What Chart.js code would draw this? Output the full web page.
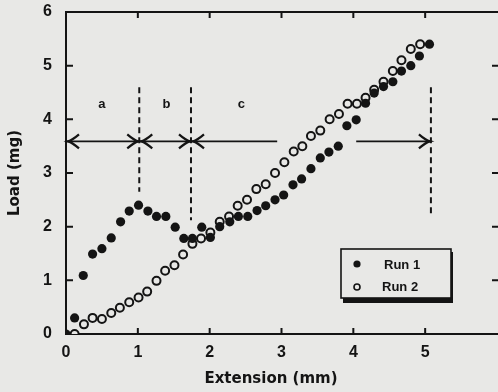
<!DOCTYPE html>
<html>
<head>
<meta charset="utf-8">
<script src="https://cdn.jsdelivr.net/npm/chart.js@4.4.1/dist/chart.umd.min.js"></script>
<style>
  html, body { margin: 0; padding: 0; background: #e8e8e6; overflow: hidden; }
  #wrap { width: 498px; height: 392px; }
  canvas { display: block; }
</style>
</head>
<body>
<div id="wrap"><canvas id="loadChart"></canvas></div>
<script>
// values
var runOneX = [0, 0.12, 0.24, 0.37, 0.50, 0.63, 0.76, 0.88, 1.01, 1.14, 1.26, 1.39, 1.52, 1.64, 1.76, 1.89, 2.01, 2.14, 2.28, 2.40,
    2.53, 2.66, 2.78, 2.91, 3.03, 3.16, 3.28, 3.41, 3.54, 3.66, 3.79, 3.91, 4.04, 4.17, 4.29, 4.42, 4.55, 4.67, 4.80, 4.92, 5.06];
var runOneY = [0, 0.30, 1.09, 1.49, 1.59, 1.79, 2.09, 2.29, 2.40, 2.29, 2.19, 2.19, 1.99, 1.78, 1.78, 1.99, 1.80, 2.00, 2.09, 2.19,
    2.19, 2.30, 2.39, 2.50, 2.59, 2.78, 2.89, 3.08, 3.28, 3.39, 3.50, 3.88, 3.99, 4.30, 4.49, 4.61, 4.70, 4.90, 5.00, 5.18, 5.40];
var runTwoX = [0.12, 0.25, 0.37, 0.50, 0.63, 0.75, 0.88, 1.01, 1.13, 1.26, 1.38, 1.51, 1.63, 1.76, 1.88, 2.01, 2.14, 2.27, 2.39, 2.52,
    2.65, 2.78, 2.91, 3.04, 3.17, 3.29, 3.41, 3.54, 3.67, 3.80, 3.92, 4.05, 4.17, 4.29, 4.42, 4.55, 4.67, 4.80, 4.93];
var runTwoY = [0, 0.18, 0.30, 0.28, 0.39, 0.49, 0.59, 0.68, 0.79, 0.99, 1.18, 1.28, 1.48, 1.68, 1.78, 1.89, 2.09, 2.19, 2.39, 2.50,
    2.70, 2.79, 3.00, 3.20, 3.40, 3.50, 3.69, 3.79, 4.00, 4.10, 4.29, 4.29, 4.40, 4.55, 4.70, 4.90, 5.10, 5.31, 5.40];

var seriesNames = ['Run 1', 'Run 2'];
var xTicks = [0, 1, 2, 3, 4, 5];
var yTicks = [0, 1, 2, 3, 4, 5, 6];

// region markers (a, b, c)
var dividerX = [1.02, 1.74, 5.08];
var dividerTop = [4.6, 4.6, 4.6];
var dividerBottom = [2.65, 2.12, 2.25];
var regionNames = ['a', 'b', 'c'];
var regionLabelX = [0.5, 1.40, 2.44];
var regionLabelY = 4.27;
var arrowY = 3.59;
var arrowStart = [0, 1.02, 1.74];
var arrowEnd = [1.02, 1.74, 5.08];
var arrowGap = [2.94, 4.04]; // line broken where the data crosses it

var ink = '#141414';

function pts(xs, ys) {
    return xs.map(function (x, i) { return { x: x, y: ys[i] }; });
}

var datasets = [{
    label: seriesNames[0],
    data: pts(runOneX, runOneY),
    showLine: false,
    pointRadius: 4.6,
    pointBorderWidth: 0,
    pointBackgroundColor: ink,
    pointBorderColor: ink,
}, {
    label: seriesNames[1],
    data: pts(runTwoX, runTwoY),
    showLine: false,
    pointRadius: 4,
    pointBorderWidth: 2,
    pointBackgroundColor: '#e8e8e6',
    pointBorderColor: ink,
}];

// dashed dividers
dividerX.forEach(function (x, i) {
    datasets.push({
        type: 'line',
        data: [{ x: x, y: dividerTop[i] }, { x: x, y: dividerBottom[i] }],
        borderColor: ink,
        borderWidth: 2,
        borderDash: [6, 4],
        pointRadius: 0,
    });
});

// arrow shafts
arrowStart.forEach(function (x0, i) {
    var x1 = arrowEnd[i];
    var pieces = [[x0, x1]];
    if (arrowGap[0] > x0 && arrowGap[1] < x1) {
        pieces = [[x0, arrowGap[0]], [arrowGap[1], x1]];
    }
    pieces.forEach(function (p) {
        datasets.push({
            type: 'line',
            data: [{ x: p[0], y: arrowY }, { x: p[1], y: arrowY }],
            borderColor: ink,
            borderWidth: 1.8,
            pointRadius: 0,
        });
    });
});

var paperPlugin = {
    id: 'paper',
    beforeDraw: function (chart) {
        var ctx = chart.ctx;
        ctx.save();
        ctx.fillStyle = '#e8e8e6';
        ctx.fillRect(0, 0, chart.width, chart.height);
        ctx.restore();
    },
    afterDraw: function (chart) {
        var ctx = chart.ctx;
        var xs = chart.scales.x, ys = chart.scales.y;
        var a = chart.chartArea;
        ctx.save();
        ctx.strokeStyle = ink;
        ctx.fillStyle = ink;

        // frame: top line and inward ticks
        ctx.lineWidth = 2;
        ctx.beginPath();
        ctx.moveTo(a.left, a.top);
        ctx.lineTo(a.right + 2, a.top);
        ctx.stroke();
        ctx.beginPath();
        xTicks.forEach(function (v) {
            if (v === 0) return;
            var px = xs.getPixelForValue(v);
            ctx.moveTo(px, a.bottom); ctx.lineTo(px, a.bottom - 6);
            ctx.moveTo(px, a.top); ctx.lineTo(px, a.top + 6);
        });
        yTicks.forEach(function (v) {
            if (v === 0 || v === 6) return;
            var py = ys.getPixelForValue(v);
            ctx.moveTo(a.left, py); ctx.lineTo(a.left + 7, py);
            ctx.moveTo(a.right + 2, py); ctx.lineTo(a.right - 5, py);
        });
        ctx.stroke();

        // arrow heads
        ctx.lineWidth = 2.2;
        var ay = ys.getPixelForValue(arrowY);
        function head(px, dir) {
            ctx.beginPath();
            ctx.moveTo(px - dir * 11, ay - 7);
            ctx.quadraticCurveTo(px - dir * 4, ay - 1, px, ay);
            ctx.quadraticCurveTo(px - dir * 4, ay + 1, px - dir * 11, ay + 7);
            ctx.stroke();
        }
        arrowStart.forEach(function (x0, i) {
            head(xs.getPixelForValue(x0) + 2, -1);
            head(xs.getPixelForValue(arrowEnd[i]) - 1, 1);
        });

        // region letters
        ctx.font = 'bold 13px "Liberation Sans", Arial, sans-serif';
        ctx.textAlign = 'center';
        ctx.textBaseline = 'middle';
        regionNames.forEach(function (t, i) {
            ctx.fillText(t, xs.getPixelForValue(regionLabelX[i]), ys.getPixelForValue(regionLabelY));
        });

        // x axis title
        ctx.font = 'bold 15px "DejaVu Sans", sans-serif';
        ctx.fillText('Extension (mm)', 271, 379);

        // legend box with shadow
        var bx = 341, by = 249, bw = 110, bh = 49;
        ctx.fillRect(bx + 2, by + bh, bw, 5);
        ctx.fillRect(bx + bw, by + 3, 2, bh);
        ctx.fillStyle = '#e8e8e6';
        ctx.fillRect(bx, by, bw, bh);
        ctx.lineWidth = 1.6;
        ctx.strokeRect(bx, by, bw, bh);
        ctx.fillStyle = ink;
        ctx.beginPath();
        ctx.arc(bx + 16, by + 15, 3.6, 0, Math.PI * 2);
        ctx.fill();
        ctx.beginPath();
        ctx.arc(bx + 16, by + 38, 3, 0, Math.PI * 2);
        ctx.stroke();
        ctx.font = 'bold 13px "Liberation Sans", Arial, sans-serif';
        ctx.textAlign = 'left';
        ctx.fillText(seriesNames[0], bx + 43, by + 16);
        ctx.fillText(seriesNames[1], bx + 41, by + 38);
        ctx.restore();
    }
};

var tickFont = { family: '"Liberation Sans", Arial, sans-serif', size: 16, weight: 'bold' };

var config = {
    type: 'scatter',
    data: { datasets: datasets },
    options: {
        responsive: true,
        maintainAspectRatio: false,
        animation: false,
        layout: { autoPadding: false, padding: { top: 12, right: 1, left: 0, bottom: 0 } },
        plugins: {
            legend: { display: false },
            tooltip: { enabled: false },
        },
        scales: {
            x: {
                type: 'linear',
                min: 0,
                max: 6,
                afterFit: function (s) {
                    s.height = 58;
                    s.paddingLeft = 0;
                    s.paddingRight = 0;
                },
                afterBuildTicks: function (s) { s.ticks = xTicks.map(function (v) { return { value: v }; }); },
                grid: { display: false, drawTicks: false },
                border: { color: ink, width: 2 },
                ticks: { color: ink, font: tickFont, padding: 9, maxRotation: 0 },
            },
            y: {
                type: 'linear',
                min: 0,
                max: 6,
                afterFit: function (s) {
                    s.width = 66;
                    s.paddingTop = 0;
                    s.paddingBottom = 0;
                },
                afterBuildTicks: function (s) { s.ticks = yTicks.map(function (v) { return { value: v }; }); },
                grid: { display: false, drawTicks: false },
                border: { color: ink, width: 2 },
                ticks: { color: ink, font: tickFont, padding: 14 },
                title: {
                    display: true,
                    text: 'Load (mg)',
                    color: ink,
                    font: { family: '"DejaVu Sans", sans-serif', size: 15, weight: 'bold' },
                    padding: { top: 6, bottom: 0 },
                },
            },
        },
    },
    plugins: [paperPlugin],
};

var loadChart = new Chart(document.getElementById('loadChart'), config);
</script>
</body>
</html>
